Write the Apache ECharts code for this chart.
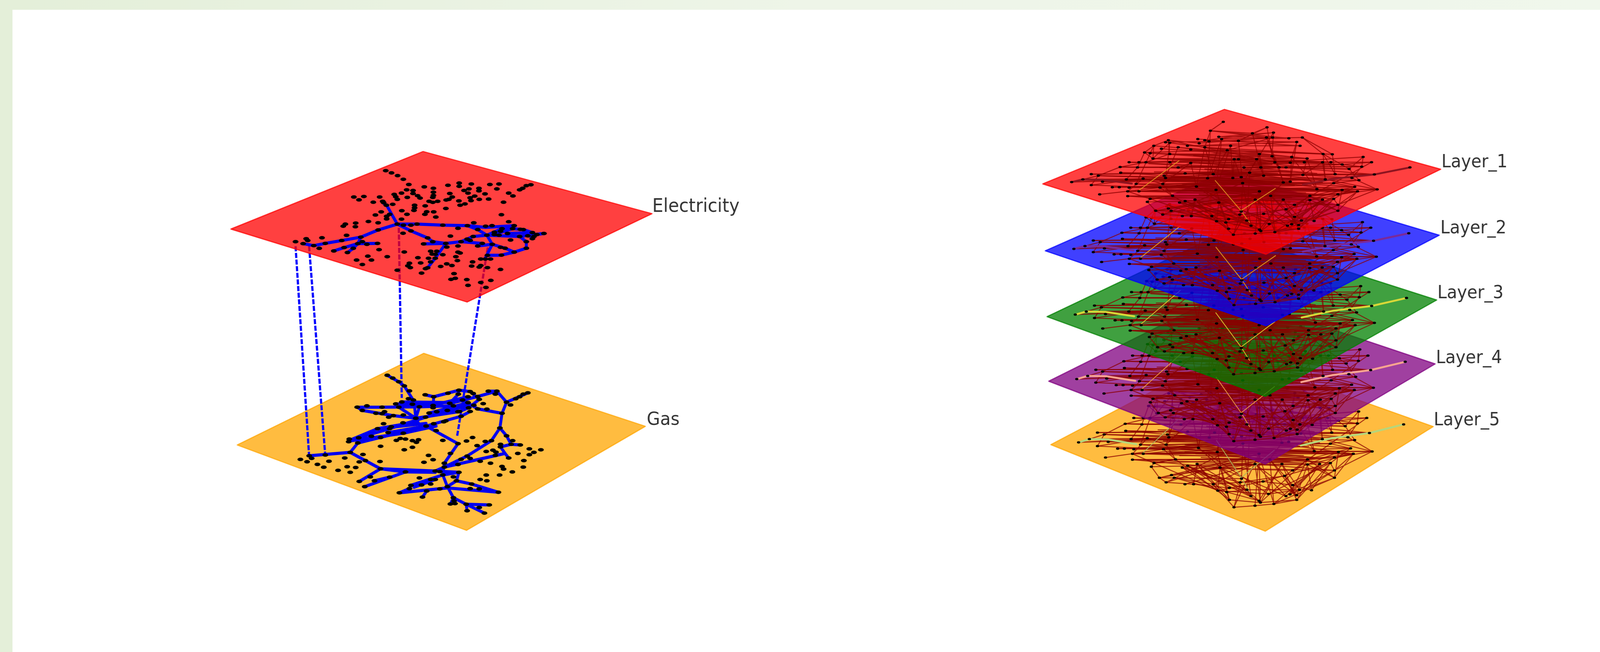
<!DOCTYPE html>
<html><head><meta charset="utf-8">
<style>html,body{margin:0;padding:0;background:#fff;width:100%;height:100%;overflow:hidden}#c{width:4369px;height:1668px;transform-origin:0 0}</style>
<script src="https://cdn.jsdelivr.net/npm/echarts@6/dist/echarts.min.js"></script>
</head><body><div id="c"></div>
<script>
const elecPlane=[[730,143],[1484,620],[875,1298],[97,738]];
const gasPlane=[[732,72],[1462,632],[873,1430],[118,775]];
const layerPlane=[[710,52],[1482,452],[858,1020],[62,550]];

const elecNodes=[[607,290],[626,307],[646,328],[665,356],[683,396],[734,414],[764,425],[812,402],[849,385],[849,410],[889,392],[950,396],[980,392],[1085,398],[1070,405],[1048,437],[1058,425],[973,430],[914,425],[881,430],[865,442],[914,445],[676,437],[697,442],[697,465],[659,462],[635,472],[640,490],[645,510],[678,495],[712,482],[720,500],[764,455],[764,480],[762,495],[818,465],[826,492],[815,510],[806,515],[878,462],[900,485],[934,468],[885,498],[888,520],[915,510],[946,508],[1012,462],[1026,484],[995,532],[502,492],[535,488],[519,514],[587,492],[566,532],[597,525],[600,535],[630,548],[609,555],[750,525],[762,533],[778,525],[848,522],[868,545],[852,555],[737,560],[702,555],[702,575],[700,595],[660,597],[805,580],[592,606],[677,625],[742,605],[765,606],[736,625],[620,625],[573,630],[610,640],[610,660],[772,646],[988,628],[659,662],[550,680],[582,690],[508,692],[474,700],[467,716],[507,720],[1012,682],[897,690],[645,700],[665,708],[690,708],[710,700],[795,708],[876,712],[936,716],[957,712],[1030,712],[845,732],[990,735],[1025,735],[910,742],[1050,740],[1060,742],[582,745],[664,770],[690,752],[985,755],[965,762],[1090,765],[1128,772],[1105,780],[1008,772],[940,785],[965,780],[980,785],[1075,790],[1048,795],[820,792],[895,795],[1095,795],[1090,812],[525,800],[478,786],[397,805],[345,812],[350,826],[310,835],[335,850],[462,826],[745,806],[1018,822],[875,815],[885,825],[762,835],[855,835],[1070,835],[530,835],[515,850],[545,855],[580,848],[408,848],[370,865],[388,886],[732,852],[805,848],[925,848],[958,855],[910,868],[845,868],[808,876],[985,878],[1070,885],[1000,885],[470,880],[500,886],[436,906],[481,918],[585,896],[668,914],[755,908],[775,908],[845,915],[852,922],[770,932],[795,935],[760,930],[1030,915],[988,938],[548,946],[612,950],[838,950],[942,940],[748,962],[770,962],[713,958],[920,968],[935,968],[952,968],[511,976],[560,976],[843,980],[755,990],[893,990],[722,998],[530,1010],[685,1000],[680,1020],[688,1034],[808,1005],[825,1018],[788,1025],[890,1022],[920,1018],[915,1030],[942,1034],[745,1035],[738,1042],[985,1048],[645,1054],[725,1076],[832,1080],[836,1116],[822,1124],[874,1126],[953,1132],[920,1148],[878,1170],[937,1186]];
const elecEdges=[
[[600,540],[610,555],[645,700],[582,745],[525,800],[462,826],[408,848],[370,865],[335,850]],
[[525,800],[515,850],[470,880],[436,906]],[[515,850],[500,886],[481,918]],[[515,850],[580,848]],
[[645,700],[710,700],[795,708],[876,712],[936,725],[1030,712]],
[[645,700],[690,752],[745,806],[762,835],[805,848],[855,835],[895,795],[940,785],[1048,795],[1128,772]],
[[876,712],[910,742],[940,785],[958,855],[1000,885],[1030,915],[1070,885],[1070,835],[1048,795]],
[[958,855],[935,960]],[[942,940],[988,938],[1030,915]],[[805,848],[770,962],[745,1035]],[[732,852],[805,848]],[[925,848],[855,835]],
[[985,755],[1030,712]],[[965,780],[1025,735]],[[1025,735],[1060,742],[1090,765],[1095,795],[1075,790],[1128,772]],[[1008,772],[1090,765]],[[940,785],[990,735]],[[958,855],[910,868]]
];
const gasNodes=[[612,240],[630,262],[650,290],[668,322],[685,360],[698,430],[682,420],[737,390],[765,405],[812,378],[848,355],[846,385],[885,365],[895,380],[945,362],[973,362],[968,385],[1075,375],[1060,385],[1048,405],[1035,420],[1005,447],[1018,468],[878,405],[910,403],[915,425],[928,458],[860,430],[878,450],[897,470],[660,445],[640,460],[650,485],[695,462],[718,482],[763,472],[763,490],[818,455],[830,475],[880,490],[910,498],[940,500],[990,532],[850,518],[845,520],[885,518],[810,510],[775,520],[750,530],[513,485],[545,475],[595,485],[530,510],[575,532],[603,520],[595,535],[632,550],[617,562],[665,545],[706,570],[738,562],[855,555],[805,590],[798,597],[600,612],[664,605],[740,630],[765,612],[625,635],[580,650],[620,650],[615,680],[665,685],[773,665],[983,645],[1005,705],[893,718],[518,720],[560,708],[590,718],[487,730],[485,750],[515,760],[655,725],[642,740],[672,730],[695,742],[715,735],[708,755],[795,740],[873,745],[845,765],[935,748],[955,742],[1025,742],[1050,775],[985,770],[985,790],[1020,770],[908,780],[590,785],[695,793],[668,812],[1080,805],[1118,812],[938,825],[960,815],[970,830],[1095,832],[1080,850],[1042,840],[820,840],[490,832],[532,848],[748,855],[408,852],[355,858],[363,878],[472,875],[326,886],[348,904],[420,900],[875,860],[885,878],[968,855],[1012,875],[855,885],[763,888],[733,908],[588,902],[540,895],[520,905],[800,915],[1062,895],[952,915],[918,900],[845,925],[382,924],[480,942],[508,948],[403,946],[990,940],[1060,945],[995,960],[590,958],[800,945],[450,970],[490,985],[1024,982],[672,982],[770,975],[785,980],[848,985],[795,1005],[938,1006],[982,1006],[830,1020],[620,1022],[718,1028],[556,1020],[918,1040],[940,1050],[520,1055],[570,1050],[755,1040],[770,1040],[840,1050],[755,1075],[690,1085],[725,1082],[538,1095],[810,1095],[890,1075],[685,1110],[785,1112],[885,1110],[915,1112],[742,1128],[652,1142],[978,1138],[728,1175],[830,1180],[832,1205],[820,1228],[835,1225],[872,1230],[948,1235],[915,1255],[875,1280],[932,1298]];
const gasEdges=[
[[612,240],[650,290],[668,322],[700,440],[706,570]],
[[355,858],[490,832],[515,760],[740,630],[855,555],[885,518]],
[[490,832],[590,958],[770,975]],[[590,958],[672,982],[770,985]],[[590,958],[520,1055]],[[672,982],[538,1095]],[[620,1022],[570,1050]],
[[740,630],[845,765],[800,915],[795,1005],[810,1095],[830,1180],[872,1230],[932,1298]],[[872,1230],[875,1280]],[[872,1230],[948,1235]],[[830,1180],[820,1228]],
[[795,1005],[690,1085],[685,1110],[652,1142],[810,1105],[978,1138]],[[742,1128],[728,1175]],[[770,1040],[700,1100]],
[[800,945],[1000,840],[985,790],[1020,770],[1005,705],[983,645],[990,532],[1005,447],[1075,375]],
[[983,645],[955,742],[875,860],[800,945]],[[1000,840],[1012,875]],[[1020,770],[1050,775]],
[[990,532],[910,498],[860,430]],[[795,1005],[848,985],[840,1050],[890,1075],[978,1138]],[[840,1050],[810,1095]],[[770,975],[848,985]],[[770,975],[800,945]],
[[513,485],[595,485],[718,482],[830,475],[880,490]],[[530,510],[632,550],[706,570],[850,518]],[[513,485],[530,510]],
[[737,390],[765,405],[848,355],[885,365],[915,425],[880,490],[850,518]],[[765,405],[763,490]],[[945,362],[973,362],[910,403]],[[973,362],[1005,447]],[[848,355],[846,385],[818,455]],
[[660,445],[650,485],[706,570],[720,630]],[[698,430],[718,482],[706,570]],[[487,740],[580,650],[706,600],[706,570]],[[615,680],[740,630]],[[518,720],[620,650],[738,562],[820,510],[880,470]],[[580,650],[740,610]],[[487,745],[665,685],[773,630]],[[660,445],[830,450],[910,403]],[[640,460],[763,470],[878,405]],[[750,530],[880,450]]
];
const layerNodes=[[706,135],[862,172],[660,195],[810,212],[885,207],[690,235],[700,250],[860,240],[882,240],[940,245],[988,240],[615,250],[510,258],[500,272],[515,275],[640,258],[655,265],[620,278],[760,262],[968,270],[578,295],[458,295],[732,295],[980,295],[485,315],[640,305],[545,305],[590,320],[720,325],[425,340],[445,345],[515,350],[1062,350],[1095,352],[835,350],[880,365],[950,370],[1205,370],[455,380],[370,405],[405,405],[430,405],[515,405],[745,385],[760,385],[825,385],[1005,380],[1235,405],[890,405],[945,408],[995,405],[1060,405],[1090,405],[1130,420],[1155,450],[338,437],[400,440],[545,440],[590,410],[780,440],[840,440],[905,440],[930,440],[1200,435],[1372,440],[235,485],[260,495],[340,475],[1245,487],[1105,485],[800,475],[670,485],[850,495],[990,490],[500,510],[570,480],[275,535],[205,520],[165,538],[360,520],[420,515],[495,495],[650,512],[740,510],[770,505],[945,535],[1070,520],[1190,525],[1165,510],[235,558],[310,572],[335,572],[370,575],[395,550],[490,550],[610,568],[775,545],[920,540],[1100,545],[1175,570],[1255,587],[1040,585],[405,600],[365,600],[480,575],[680,590],[1130,590],[1185,600],[265,620],[365,632],[445,650],[525,630],[835,600],[875,630],[1115,620],[1015,630],[435,670],[605,655],[820,655],[1015,658],[1060,655],[1100,650],[690,675],[550,675],[570,665],[920,655],[960,690],[1115,690],[510,715],[465,730],[520,730],[770,735],[1115,730],[490,755],[560,765],[592,765],[665,765],[765,755],[850,750],[930,720],[960,770],[1030,798],[682,800],[725,785],[715,808],[790,795],[985,795],[725,850],[805,830],[870,818],[835,855],[840,865],[820,882],[935,830],[950,820],[975,825],[975,850],[890,872],[742,890]];
const layerEdges=[
[[1245,487],[1105,485],[850,495],[500,510],[260,495],[205,520],[165,538]],
[[235,485],[570,480],[800,475],[1070,520],[1255,587],[1040,585],[610,568],[310,572]],
[[235,558],[480,575],[775,545],[1100,545],[1175,570],[920,540],[495,495],[340,475],[670,485],[990,490],[1165,510]],
[[275,535],[740,510],[1130,590],[680,590],[365,600],[405,600],[835,600],[1185,600],[1015,630],[525,630],[365,632]],
[[370,405],[780,440],[1200,435],[1205,370],[890,405],[455,380],[425,340],[720,325],[1062,350],[1155,450],[840,440],[400,440],[338,437]],
[[405,405],[745,385],[1060,405],[1235,405],[995,405],[545,440],[590,410],[930,440],[1130,420],[760,385],[430,405]],
[[395,550],[1100,650],[875,630],[445,650],[435,670],[920,655],[1060,655],[570,665],[1015,658],[605,655]],
[[525,630],[1115,620],[820,655],[365,632],[690,675],[960,690],[550,675],[1115,690],[820,655]],
[[458,295],[835,350],[515,350],[880,365],[485,315],[950,370],[590,320],[1095,352],[640,305],[1005,380],[545,305],[825,385],[515,405]],
[[615,250],[980,295],[732,295],[578,295],[968,270],[640,258],[885,207],[690,235],[860,240],[660,195],[940,245],[700,250],[988,240],[1062,350]],
[[706,135],[660,195],[810,212],[862,172],[760,262],[500,272],[720,325],[882,240],[620,278],[510,258],[890,405]],
[[862,172],[880,365],[905,440],[920,540],[875,630],[930,720],[975,850],[920,655],[985,795]],
[[800,475],[790,795],[805,830],[775,545],[770,735],[742,890],[665,765],[820,655],[840,865],[835,600],[820,882]],
[[435,670],[465,730],[490,755],[592,765],[605,655],[682,800],[690,675],[725,850],[680,590],[715,808],[570,665],[725,785]],
[[1115,620],[960,770],[1030,798],[1015,658],[975,825],[1115,690],[950,820],[1115,730],[890,872],[1060,655],[935,830]],
[[550,675],[765,755],[850,750],[1100,650],[870,818],[610,568],[835,855],[520,730],[770,735],[465,730]],
[[520,730],[665,765],[765,755],[930,720],[960,770],[850,750],[682,800],[870,818],[985,795],[790,795],[592,765]],
[[445,650],[525,630],[490,550],[420,515],[360,520],[400,440],[425,340],[458,295],[510,258],[515,350],[430,405],[338,437],[260,495],[235,558]],
[[1205,370],[1155,450],[1190,525],[1100,545],[1235,405],[1130,420],[1200,435],[1165,510],[1255,587],[1115,620],[1185,600],[1130,590],[1040,585]],
[[1115,690],[1100,650],[1175,570],[1015,630],[1115,730],[1015,658],[1185,600]],
[[480,575],[850,495],[500,510],[1070,520],[490,550],[945,535],[420,515],[920,540],[360,520],[1190,525]],
[[370,575],[1040,585],[395,550],[1100,545],[310,572],[775,545],[335,572],[610,568],[405,600],[1175,570]],
[[650,512],[1165,510],[500,510],[990,490],[570,480],[1105,485],[670,485],[1245,487],[850,495],[340,475]],
[[365,632],[1015,630],[400,600],[1040,585],[365,600],[1130,590],[480,575],[1185,600],[680,590],[1255,587]],
[[525,630],[725,850],[605,655],[805,830],[690,675],[935,830],[820,655],[975,825],[875,630],[890,872],[835,600],[742,890]],
[[445,650],[682,800],[550,675],[790,795],[570,665],[835,855],[920,655],[840,865],[1015,630],[950,820],[1060,655],[975,850],[1100,650],[1030,798]],
[[370,405],[1090,405],[425,340],[945,408],[445,345],[1005,380],[455,380],[1060,405],[405,405],[995,405],[515,405],[1130,420]],
[[338,437],[905,440],[400,440],[1200,435],[545,440],[780,440],[1155,450],[840,440],[495,495],[930,440],[1245,487]],
[[235,485],[800,475],[275,535],[945,535],[205,520],[740,510],[260,495],[650,512],[165,538],[420,515]],
[[720,325],[670,485],[640,305],[610,568],[590,410],[490,550],[545,305],[500,510],[515,275],[455,380],[458,295],[395,550]],
[[760,262],[775,545],[745,385],[740,510],[732,295],[680,590],[700,250],[650,512],[660,195],[640,305]],
[[988,240],[1095,352],[1105,485],[1062,350],[1070,520],[1060,405],[990,490],[1005,380],[1040,585],[950,370],[945,535],[968,270],[945,408]],
[[810,212],[840,440],[835,350],[850,495],[825,385],[775,545],[885,207],[880,365],[890,405],[905,440],[860,240],[920,540]],
[[265,620],[480,575],[525,630],[445,650],[365,600],[420,515],[235,558]],
[[560,765],[820,655],[510,715],[875,630],[465,730],[835,600],[490,755],[775,545]],
[[742,890],[820,882],[890,872],[975,850],[840,865],[725,850],[715,808],[790,795]],
[[1255,587],[1115,690],[1185,600],[1115,730],[1130,590],[960,690],[1100,545],[930,720]],
[[440,415],[950,470],[460,470],[1010,520],[480,530],[1020,560],[500,590],[1000,610],[540,610]],
[[455,380],[880,420],[480,440],[900,480],[520,500],[960,560],[560,550],[1040,620],[600,600]],
[[600,360],[1000,440],[620,410],[1040,480],[640,450],[1060,540],[660,540],[1080,600]],
[[540,560],[900,600],[560,590],[950,640],[620,620],[1000,650],[680,640]]
];
const accentEdges=[[[1372,440],[1245,487],[1105,515],[990,555]],[[165,538],[205,520],[275,522],[380,548]]];
const thinAccentEdges=[[[400,600],[548,395]],[[677,527],[769,729]],[[892,580],[769,729]],[[769,729],[800,808]]];
const connectors=[[[807,630],[844,1166]],[[844,630],[888,1164]],[[1089,583],[1097,1018]],[[1332,633],[1248,1117]]];
const labelNames=['Electricity','Gas','Layer_1','Layer_2','Layer_3','Layer_4','Layer_5'];
const labelAnchors=[[1781,530],[1766,1075],[3936,416],[3933,585],[3925,751],[3921,917],[3915,1076]];
const labelFontSizes=[48,47,46,46,46,46,46];

// ---------- styles ----------
const layerFill=['255,0,0','0,0,255','0,128,0','128,0,128','255,165,0'];
const accentColor=['#8f1420','#7a2a9a','#d8d838','#f8a490','#b6d67c'];
const thinAccent=['#e09020','#e0a020','#e0c830','#f0a040','#a8b860'];
const layerBoxes=[[2800,260,1200,600],[2807.3,417.2,1188,640],[2812.6,571.4,1174.8,680.4],[2817.7,727.1,1165,707.4],[2823.9,878.4,1153,738.6]];
const boxes=[[0,0,4369,1668],[550,340,1300,500],[550,880,1300,500]].concat(layerBoxes);
const spans=[[4369,1668],[1568,1500],[1568,1500],[1568,1568],[1568,1568],[1568,1568],[1568,1568],[1568,1568]];

let z=10;
function plane(ax,pts,rgb){
  return {type:'custom',coordinateSystem:'cartesian2d',xAxisIndex:ax,yAxisIndex:ax,z:z++,silent:true,clip:false,
    data:[[0,0]],
    renderItem:(p,api)=>({type:'polygon',shape:{points:pts.map(q=>api.coord(q))},
      style:{fill:`rgba(${rgb},.75)`,stroke:`rgba(${rgb},.75)`,lineWidth:3,lineJoin:'round'}})};
}
function chains(ax,list,color,width,dash){
  return {type:'custom',coordinateSystem:'cartesian2d',xAxisIndex:ax,yAxisIndex:ax,z:z++,silent:true,clip:false,
    data:list.map((c,i)=>[i,i]),
    renderItem:(p,api)=>({type:'polyline',shape:{points:list[api.value(0)].map(q=>api.coord(q))},
      style:{fill:null,stroke:color,lineWidth:width,lineDash:dash||null,lineJoin:'round',lineCap:dash?'butt':'round'}})};
}
function nodes(ax,list,size){
  return {type:'scatter',xAxisIndex:ax,yAxisIndex:ax,z:z++,silent:true,clip:false,data:list,symbol:'circle',symbolSize:size,itemStyle:{color:'#000',opacity:1}};
}
const series=[];
series.push(plane(2,gasPlane,'255,165,0'));
series.push(chains(0,connectors,'#0000ff',6,[13,4]));
series.push(chains(2,gasEdges,'#0000f0',8));
series.push(nodes(2,gasNodes,[16,9]));
series.push(plane(1,elecPlane,'255,0,0'));
series.push(chains(1,elecEdges,'#0000f0',8));
series.push(nodes(1,elecNodes,[16,9]));
for(let k=4;k>=0;k--){
  const ax=3+k;
  series.push(plane(ax,layerPlane,layerFill[k]));
  series.push(chains(ax,layerEdges,'rgba(139,0,0,.75)',2.5));
  series.push(chains(ax,accentEdges,accentColor[k],5));
  series.push(chains(ax,thinAccentEdges,thinAccent[k],2));
  series.push(nodes(ax,layerNodes,[9,6]));
}
series.push({type:'scatter',xAxisIndex:0,yAxisIndex:0,z:z++,silent:true,clip:false,symbolSize:1,itemStyle:{color:'transparent'},
  data:labelNames.map((n,i)=>({name:n,value:labelAnchors[i],label:{fontSize:labelFontSizes[i]}})),
  label:{show:true,position:'inside',align:'left',verticalAlign:'middle',formatter:'{b}',fontFamily:'DejaVu Sans',color:'#000',textBorderWidth:0}});

// the sandbox window may be narrower than the 4369 px frame: fit the whole frame to it
const host=document.getElementById('c');
host.style.transform='scaleX('+(window.innerWidth/4369)+')';
const chart=echarts.init(host,null,{renderer:'canvas',width:4369,height:1668});
chart.setOption({
  animation:false,backgroundColor:'#fff',
  grid:boxes.map(b=>({left:b[0],top:b[1],width:b[2],height:b[3],containLabel:false,show:false})),
  xAxis:spans.map((s,i)=>({type:'value',gridIndex:i,min:0,max:s[0],show:false})),
  yAxis:spans.map((s,i)=>({type:'value',gridIndex:i,min:0,max:s[1],inverse:true,show:false})),
  graphic:[
    {type:'rect',z:1,shape:{x:0,y:0,width:4369,height:25},style:{fill:new echarts.graphic.LinearGradient(0,0,1,0,[{offset:0,color:'#e4efd9'},{offset:.25,color:'#e9f2e1'},{offset:.5,color:'#eef5e8'},{offset:1,color:'#f0f7ec'}])},silent:true},
    {type:'rect',z:1,shape:{x:0,y:0,width:34,height:1668},style:{fill:'#e4efd9'},silent:true}
  ],
  series
});
</script></body></html>
